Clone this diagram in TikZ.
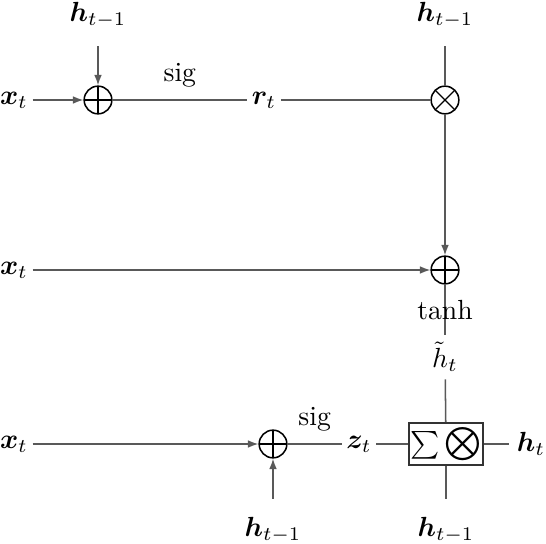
\documentclass[tikz,border=0pt]{standalone}
\usepackage{amsmath,amssymb,bm}
\usetikzlibrary{positioning,arrows.meta}

\begin{document}
\begin{tikzpicture}[
  x=0.0127cm, y=-0.0127cm,
  font=\normalsize,
  var/.style={inner sep=1.5pt},
  hlab/.style={inner xsep=2pt, inner ysep=6.5pt},
  op/.style={circle, draw=black, line width=0.55pt, inner sep=0pt, minimum size=10pt},
  plus/.style={op, path picture={\draw[line width=0.45pt]
      (path picture bounding box.north) -- (path picture bounding box.south)
      (path picture bounding box.west) -- (path picture bounding box.east);}},
  times/.style={op, path picture={\draw[line width=0.45pt]
      (path picture bounding box.north west) -- (path picture bounding box.south east)
      (path picture bounding box.north east) -- (path picture bounding box.south west);}},
  gatebox/.style={draw=black!80, line width=0.8pt, inner sep=0.8pt, minimum height=15pt},
  link/.style={draw=black!65, line width=0.55pt},
  arrow/.style={link, -{Latex[length=3.8pt,width=2.8pt]}}
]
\useasboundingbox (0,0) rectangle (546,544);

% reset gate
\node (x1) [var] at (14,100) {$\bm{x}_t$};
\node (h1) [hlab] at (98,15) {$\bm{h}_{t-1}$};
\node (p1) [plus] at (98,100) {};
\node (r) [var] at (264,100) {$\bm{r}_t$};
\node (h2) [hlab] at (445,15) {$\bm{h}_{t-1}$};
\node (m1) [times] at (445,100) {};

\draw [arrow] (x1) -- (p1);
\draw [arrow] (h1) -- (p1);
\draw [link] (p1) -- (r) node[midway, above=1pt] {sig};
\draw [link] (r) -- (m1);
\draw [link] (h2) -- (m1);

% candidate state
\node (x2) [var] at (14,270) {$\bm{x}_t$};
\node (p2) [plus] at (445,270) {};
\node (hc) [var, inner sep=2.5pt] at (445,357) {$\tilde{h}_t$};

\draw [arrow] (m1) -- (p2);
\draw [arrow] (x2) -- (p2);
\draw [link] (p2) -- (hc) node[midway] {tanh};

% update gate
\node (x3) [var] at (14,444) {$\bm{x}_t$};
\node (p3) [plus] at (273,444) {};
\node (h3) [hlab] at (273,530) {$\bm{h}_{t-1}$};
\node (z) [var] at (359,444) {$\bm{z}_t$};
\node (upd) [gatebox] at (446,444) {$\sum$\kern1.5pt{\large$\bigotimes$}};
\node (ht) [var, inner sep=2.5pt] at (531,444) {$\bm{h}_t$};
\node (h4) [hlab] at (446,530) {$\bm{h}_{t-1}$};

\draw [arrow] (x3) -- (p3);
\draw [arrow] (h3) -- (p3);
\draw [link] (p3) -- (z) node[midway, above=1pt] {sig};
\draw [link] (z) -- (upd);
\draw [link] (hc) -- (upd);
\draw [link] (upd) -- (ht);
\draw [link] (h4) -- (upd);

\end{tikzpicture}
\end{document}
